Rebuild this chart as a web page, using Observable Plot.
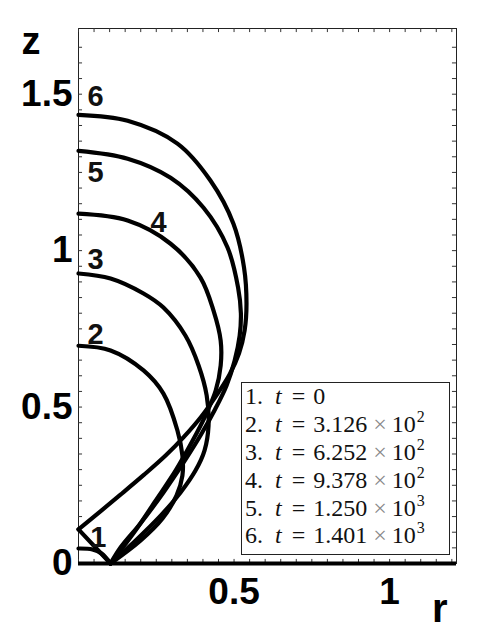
<!DOCTYPE html>
<html><head><meta charset="utf-8">
<script src="https://cdn.jsdelivr.net/npm/d3@7"></script>
<script src="https://cdn.jsdelivr.net/npm/@observablehq/plot@0.6"></script>
<style>
body{margin:0;background:#fff;}
#wrap{position:relative;width:486px;height:636px;}
#legend{position:absolute;left:241px;top:382px;width:209px;height:173px;border:1px solid #222;background:#fff;font-family:"Liberation Serif","DejaVu Serif",serif;font-size:24px;color:#111;box-sizing:border-box;}
.row{height:27.9px;line-height:27.9px;padding-left:3px;white-space:nowrap;}
.row i{margin:0 10px 0 12px;}
.eq{margin-right:8px;}
.x{color:#888;margin:0 5px 0 6px;}
.sup{font-size:16px;position:relative;top:-10px;margin-left:1px;}
</style></head>
<body><div id="wrap"></div>
<script>
// curve profiles [r, z]
const c1a = [[0,0.048],[0.045,0.045],[0.074,0.032],[0.103,0]];
const c1b = [[0.103,0],[0,0.109]];
const c2 = [[0,0.696],[0.103,0.681],[0.209,0.617],[0.273,0.543],[0.318,0.425],[0.334,0.345],[0.334,0.281],[0.315,0.217],[0.270,0.144],[0.199,0.073],[0.103,0]];
const c3 = [[0,0.927],[0.103,0.911],[0.209,0.863],[0.273,0.818],[0.344,0.728],[0.386,0.633],[0.412,0.537],[0.418,0.441],[0.405,0.361],[0.376,0.297],[0.328,0.227],[0.264,0.153],[0.183,0.073],[0.103,0]];
const c4 = [[0,1.118],[0.158,1.096],[0.296,1.022],[0.392,0.914],[0.434,0.808],[0.457,0.712],[0.457,0.633],[0.441,0.553],[0.408,0.473],[0.367,0.393],[0.312,0.297],[0.248,0.201],[0.183,0.105],[0.103,0]];
const c5 = [[0,1.319],[0.158,1.294],[0.296,1.233],[0.402,1.137],[0.479,1.010],[0.513,0.882],[0.522,0.800],[0.518,0.728],[0.502,0.649],[0.476,0.569],[0.437,0.489],[0.392,0.409],[0.338,0.323],[0.273,0.227],[0.199,0.128],[0.135,0.051],[0.103,0]];
const c6 = [[0,1.434],[0.158,1.415],[0.318,1.342],[0.424,1.224],[0.498,1.086],[0.532,0.946],[0.540,0.830],[0.534,0.745],[0.516,0.672],[0.486,0.605],[0.445,0.540],[0.395,0.470],[0.338,0.404],[0.280,0.345],[0.210,0.283],[0.135,0.220],[0,0.109]];

const curveNames = ["1","2","3","4","5","6"];
const labelR = [0.064,0.055,0.055,0.257,0.055,0.055];
const labelZ = [0.083,0.732,0.971,1.089,1.249,1.492];

const legendNum = ["1.","2.","3.","4.","5.","6."];
const legendMant = ["0","3.126","6.252","9.378","1.250","1.401"];
const legendExp = [null,"2","2","2","3","3"];

const xTickLabels = [0.5, 1];
const yTickLabels = [0, 0.5, 1, 1.5];
const xDomain = [0, 1.215];
const yDomain = [0, 1.71];
const minorStep = 0.05;

const segments = [c1a, c1b, c2, c3, c4, c5, c6];
const rows = segments.flatMap((pts, i) => pts.map(([r, z]) => ({r, z, id: i})));
const labels = curveNames.map((t, i) => ({t, r: labelR[i], z: labelZ[i]}));
const xMinor = d3.range(0, xDomain[1] - 0.01, minorStep);
const yMinor = d3.range(0, yDomain[1] - 0.01, minorStep);
const tk = 0.013;

const chart = Plot.plot({
  width: 486, height: 636,
  marginLeft: 78, marginTop: 28, marginRight: 30, marginBottom: 73,
  style: {fontFamily: "'Liberation Sans', Arial, sans-serif", fontSize: "37px", fontWeight: "bold", background: "white", color: "black"},
  x: {domain: xDomain, ticks: xTickLabels, tickSize: 0, tickPadding: 14, label: null, tickFormat: d => String(d)},
  y: {domain: yDomain, ticks: yTickLabels, tickSize: 0, tickPadding: 6, label: null, tickFormat: d => String(d)},
  marks: [
    Plot.frame({stroke: "#222", strokeWidth: 1}),
    Plot.ruleX(xMinor, {x: d => d, y1: yDomain[0], y2: yDomain[0] + tk, stroke: "#333"}),
    Plot.ruleX(xMinor, {x: d => d, y1: yDomain[1], y2: yDomain[1] - tk, stroke: "#333"}),
    Plot.ruleY(yMinor, {y: d => d, x1: xDomain[0], x2: xDomain[0] + tk, stroke: "#333"}),
    Plot.ruleY(yMinor, {y: d => d, x1: xDomain[1], x2: xDomain[1] - tk, stroke: "#333"}),
    Plot.ruleY([0], {stroke: "black", strokeWidth: 4}),
    Plot.line(rows, {x: "r", y: "z", z: "id", stroke: "black", strokeWidth: 4.2, curve: "catmull-rom", strokeLinejoin: "round"}),
    Plot.text(labels, {x: "r", y: "z", text: "t", fontSize: 29, fontWeight: "bold", fill: "#111"}),
    Plot.text(["z"], {frameAnchor: "top-left", text: d => d, dx: -57, dy: -1, fontSize: 38}),
    Plot.text(["r"], {frameAnchor: "bottom-right", text: d => d, dx: -9, dy: 58, fontSize: 40})
  ]
});
const wrap = document.getElementById("wrap");
wrap.appendChild(chart);

const lg = document.createElement("div");
lg.id = "legend";
legendNum.forEach((n, i) => {
  const row = document.createElement("div");
  row.className = "row";
  let html = `${n}<i>t</i><span class="eq">=</span>${legendMant[i]}`;
  if (legendExp[i]) html += `<span class="x">×</span>10<span class="sup">${legendExp[i]}</span>`;
  row.innerHTML = html;
  lg.appendChild(row);
});
wrap.appendChild(lg);
</script>
</body></html>
